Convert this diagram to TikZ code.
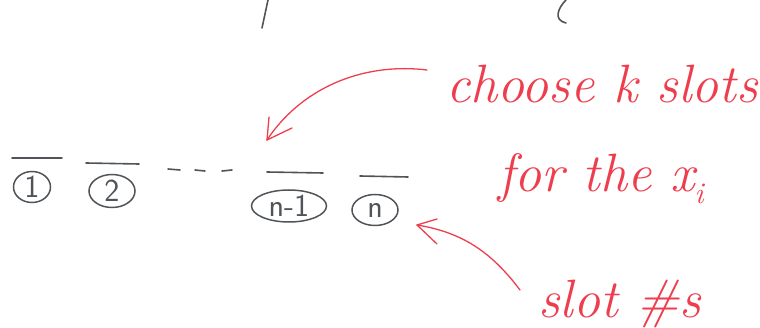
\documentclass[tikz,border=0pt]{standalone}
\usetikzlibrary{shapes.geometric}
\definecolor{pen}{RGB}{238,62,78}
\definecolor{pencil}{RGB}{80,84,88}
\tikzset{
  slotline/.style={pencil, line width=1.6pt, line cap=round},
  slotlabel/.style={ellipse, draw=pencil, line width=1.5pt, text=pencil, inner sep=0pt,
     font=\sffamily\fontsize{32}{32}\selectfont},
  redtext/.style={text=pen, anchor=base west, inner sep=0pt,
     font=\itshape\fontsize{54}{60}\selectfont},
  redline/.style={pen, line width=1.3pt, line cap=round},
  pencilmark/.style={pencil, line width=1.6pt, line cap=round}
}
\begin{document}
\begin{tikzpicture}[x=1pt,y=-1pt]
\useasboundingbox (0,0) rectangle (760,328);
% fragments of text cut off at the top
\draw[pencilmark] (268,0) -- (262,28);
\draw[pencilmark] (566,0) .. controls (558,8) and (553,20) .. (566,23);
% slots
\draw[slotline] (12,158) -- (62,158);
\draw[slotline] (86,163) -- (139,164);
\draw[slotline] (168,169) -- (180,170);
\draw[slotline] (195,170) -- (205,171);
\draw[slotline] (222,171) -- (232,170);
\draw[slotline] (267,172) -- (323,173);
\draw[slotline] (360,176) -- (408,177);
\node[slotlabel, minimum width=37pt, minimum height=31pt] (s1) at (32,187) {1};
\node[slotlabel, minimum width=46pt, minimum height=33pt] (s2) at (112,191) {2};
\node[slotlabel, minimum width=75pt, minimum height=32pt] (s3) at (289,206) {n-1};
\node[slotlabel, minimum width=46pt, minimum height=31pt] (s4) at (375,210) {n};
% red annotations
\node[redtext] (t1) at (446,103) {choose k slots};
\node[redtext] (t2) at (498,192) {for the x\raisebox{-12pt}{\fontsize{30}{30}\selectfont i}};
\node[redtext] (t3) at (538,318) {slot \#s};
\coordinate (a1s) at (427,70);
\coordinate (a1t) at (267,140);
\coordinate (a2s) at (520,290);
\coordinate (a2t) at (417,225);
\draw[redline] (a1s) .. controls (360,62) and (300,90) .. (a1t);
\draw[redline] (a1t) -- ++(2,-23);
\draw[redline] (a1t) -- ++(25,-12);
\draw[redline] (a2s) .. controls (490,250) and (460,232) .. (a2t);
\draw[redline] (a2t) -- ++(20,-6);
\draw[redline] (a2t) -- ++(20,19);
\end{tikzpicture}
\end{document}
